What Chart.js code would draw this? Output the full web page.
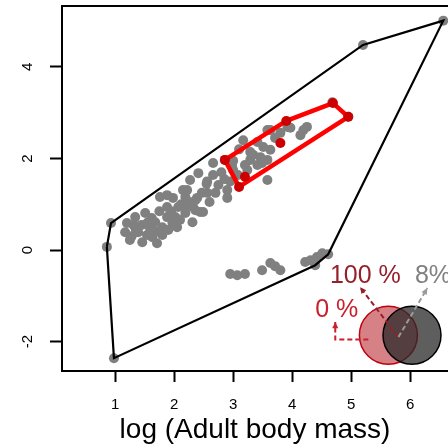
<!DOCTYPE html>
<html>
<head>
<meta charset="utf-8">
<script src="https://cdn.jsdelivr.net/npm/chart.js@4"></script>
<style>
  html, body { margin: 0; padding: 0; background: #fff; overflow: hidden; }
  canvas { display: block; }
</style>
</head>
<body>
<canvas id="myChart" width="448" height="444"></canvas>
<script>
// all species (grey)
var allX = [0.86, 0.93, 0.98, 5.20, 6.56, 4.61, 4.39,
    2.95, 3.07, 3.20, 3.49, 3.63, 3.71, 3.80, 4.22, 4.31, 4.42, 4.51,
    1.20, 1.34, 1.51, 1.25, 1.46, 1.63, 1.39, 1.59, 1.80, 1.80, 1.97, 2.02, 1.88, 2.07, 2.19, 2.36,
    2.31, 2.19, 2.36, 2.47, 1.88, 1.76, 2.22, 2.44, 2.05, 1.88, 2.66, 2.41, 2.27, 2.15, 2.66, 2.98,
    3.08, 2.75, 2.90, 2.56, 2.39, 2.90, 3.24, 3.34, 3.58, 3.49, 1.98, 2.32, 2.49, 3.17, 3.41, 3.63,
    3.71, 3.97, 4.19, 4.25, 4.68, 3.51, 3.29, 3.63, 3.46, 3.29, 3.20, 3.41, 3.58, 3.80, 3.92, 4.14,
    3.58, 1.17, 1.31, 1.68, 1.71, 1.54, 1.90, 2.10, 2.56, 2.80, 2.95, 3.00, 3.10, 4.95, 2.86,
    1.45, 1.62, 1.75, 1.95, 2.12, 2.25, 1.55, 1.70, 2.20, 2.55, 2.70, 2.85, 3.00, 1.35, 1.28, 2.60];
var allY = [0.07, 0.59, -2.36, 4.48, 5.01, -0.09, -0.33,
    -0.52, -0.55, -0.52, -0.44, -0.28, -0.35, -0.44, -0.26, -0.22, -0.15, -0.07,
    0.59, 0.72, 0.81, 0.22, 0.17, 0.28, 0.39, 0.48, 0.50, 0.33, 0.59, 0.72, 0.94, 0.94, 1.16, 1.09,
    0.61, 0.81, 0.87, 1.25, 1.20, 1.16, 1.31, 0.83, 0.50, 0.72, 1.90, 1.68, 1.53, 1.31, 1.64, 1.86,
    1.64, 1.42, 1.31, 1.25, 1.14, 1.14, 1.75, 2.08, 1.53, 1.90, 1.14, 0.94, 0.83, 2.40, 2.36, 2.62,
    2.45, 2.67, 2.62, 2.69, 3.23, 2.25, 2.14, 2.19, 2.03, 1.97, 1.86, 1.86, 1.97, 2.56, 2.69, 2.51,
    2.62, 0.39, 0.55, 0.61, 0.15, 0.33, 0.44, 0.66, 1.50, 1.70, 1.50, 1.95, 2.20, 2.91, 1.97,
    0.55, 0.70, 0.85, 0.85, 1.00, 1.05, 0.60, 0.40, 0.95, 1.45, 1.25, 1.55, 1.75, 0.45, 0.30, 1.05];

// subset (red)
var subX = [2.86, 3.10, 4.95, 4.69, 3.90, 3.80, 3.20];
var subY = [1.97, 1.38, 2.91, 3.21, 2.82, 2.34, 1.60];

// convex hulls
var hullX = [0.86, 0.93, 5.20, 6.56, 4.61, 4.39, 0.98, 0.86];
var hullY = [0.07, 0.59, 4.48, 5.01, -0.09, -0.33, -2.36, 0.07];
var subHullX = [2.86, 3.90, 4.69, 4.95, 3.10, 2.86];
var subHullY = [1.97, 2.82, 3.21, 2.91, 1.38, 1.97];

// overlap circles (subset / all)
var vennX = [5.63, 6.03];
var vennY = [-1.86, -1.86];
var vennLabels = ["0 %", "100 %", "8%"];

var xTicks = [1, 2, 3, 4, 5, 6];
var xTickLabels = ["1", "2", "3", "4", "5", "6"];
var yTicks = [-2, 0, 2, 4];
var yTickLabels = ["-2", "0", "2", "4"];

var FONT = "'Liberation Sans', Arial, sans-serif";

function toPoints(xs, ys) {
    return xs.map(function (x, i) {
        return { x: x, y: ys[i] };
    });
}

// tick labels, top frame line, arrows and labels of the overlap inset
var insetPlugin = {
    id: "inset",
    afterDatasetsDraw: function (chart) {
        var c = chart.ctx;
        var sx = chart.scales.x, sy = chart.scales.y;
        var px = function (v) { return sx.getPixelForValue(v); };
        var py = function (v) { return sy.getPixelForValue(v); };

        function arrow(pts, color) {
            c.save();
            c.strokeStyle = color;
            c.fillStyle = color;
            c.lineWidth = 2;
            c.setLineDash([5, 3]);
            c.beginPath();
            c.moveTo(px(pts[0][0]), py(pts[0][1]));
            for (var i = 1; i < pts.length; i++) c.lineTo(px(pts[i][0]), py(pts[i][1]));
            c.stroke();
            var a = pts[pts.length - 2], b = pts[pts.length - 1];
            var ang = Math.atan2(py(b[1]) - py(a[1]), px(b[0]) - px(a[0]));
            var ex = px(b[0]), ey = py(b[1]);
            c.setLineDash([]);
            c.beginPath();
            c.moveTo(ex, ey);
            c.lineTo(ex - 7 * Math.cos(ang - 0.45), ey - 7 * Math.sin(ang - 0.45));
            c.lineTo(ex - 7 * Math.cos(ang + 0.45), ey - 7 * Math.sin(ang + 0.45));
            c.closePath();
            c.fill();
            c.restore();
        }

        arrow([[5.29, -1.95], [4.73, -1.95], [4.73, -1.57]], "#c8202c");
        arrow([[5.80, -1.90], [5.15, -0.81]], "#96202a");
        arrow([[5.80, -1.90], [6.29, -0.83]], "#9a9a9a");

        c.save();
        c.font = "25px " + FONT;
        c.textBaseline = "alphabetic";
        c.textAlign = "left";
        c.fillStyle = "#c8202c";
        c.fillText(vennLabels[0], px(4.39), py(-1.46));
        c.fillStyle = "#96202a";
        c.fillText(vennLabels[1], px(4.64), py(-0.72));
        c.fillStyle = "#808080";
        c.fillText(vennLabels[2], px(6.08), py(-0.72));
        c.restore();
    },
    afterDraw: function (chart) {
        var a = chart.chartArea, c = chart.ctx;
        var sx = chart.scales.x, sy = chart.scales.y;
        c.save();
        c.strokeStyle = "#000";
        c.lineWidth = 2;
        c.beginPath();
        c.moveTo(a.left - 1, a.top);
        c.lineTo(a.right, a.top);
        c.stroke();

        c.fillStyle = "#000";
        c.font = "15px " + FONT;
        c.textAlign = "center";
        c.textBaseline = "middle";
        xTicks.forEach(function (v, i) {
            c.fillText(xTickLabels[i], sx.getPixelForValue(v), a.bottom + 34);
        });
        yTicks.forEach(function (v, i) {
            c.save();
            c.translate(a.left - 34, sy.getPixelForValue(v));
            c.rotate(-Math.PI / 2);
            c.fillText(yTickLabels[i], 0, 0);
            c.restore();
        });
        c.restore();
    }
};

var ctx = document.getElementById("myChart").getContext("2d");
var myChart = new Chart(ctx, {
    type: "scatter",
    data: {
        datasets: [
            {
                label: "all (circle)",
                data: toPoints(vennX.slice(1), vennY.slice(1)),
                pointRadius: 29,
                backgroundColor: "rgba(40,40,40,0.75)",
                borderColor: "#000000",
                borderWidth: 1.5,
                order: 1,
            },
            {
                label: "subset (circle)",
                data: toPoints(vennX.slice(0, 1), vennY.slice(0, 1)),
                pointRadius: 29,
                backgroundColor: "rgba(180,25,35,0.55)",
                borderColor: "#c00010",
                borderWidth: 1.5,
                order: 2,
            },
            {
                label: "subset",
                data: toPoints(subX, subY),
                pointRadius: 5,
                backgroundColor: "#cc0000",
                borderWidth: 0,
                order: 3,
            },
            {
                label: "subset hull",
                type: "line",
                data: toPoints(subHullX, subHullY),
                borderColor: "#ff0000",
                borderWidth: 4.5,
                borderJoinStyle: "round",
                pointRadius: 0,
                fill: false,
                tension: 0,
                order: 4,
            },
            {
                label: "hull",
                type: "line",
                data: toPoints(hullX, hullY),
                borderColor: "#000000",
                borderWidth: 2.2,
                pointRadius: 0,
                fill: false,
                tension: 0,
                order: 5,
            },
            {
                label: "all",
                data: toPoints(allX, allY),
                pointRadius: 5,
                backgroundColor: "#808080",
                borderWidth: 0,
                order: 6,
            },
        ],
    },
    options: {
        responsive: false,
        animation: false,
        layout: { autoPadding: false, padding: { top: 6, right: 0, left: 0, bottom: 0 } },
        plugins: {
            legend: { display: false },
            tooltip: { enabled: false },
        },
        scales: {
            x: {
                type: "linear",
                min: 0.1,
                max: 6.64,
                afterBuildTicks: function (scale) {
                    scale.ticks = xTicks.map(function (v) { return { value: v }; });
                },
                afterFit: function (scale) {
                    scale.height = 73;
                },
                border: { display: true, color: "#000", width: 2 },
                grid: { drawOnChartArea: false, tickLength: 11, tickWidth: 2, tickColor: "#000" },
                ticks: { display: false },
                title: {
                    display: true,
                    text: "log (Adult body mass)",
                    color: "#000",
                    padding: { top: 0, bottom: 0 },
                    font: { family: FONT, size: 28, lineHeight: 1 },
                },
            },
            y: {
                type: "linear",
                min: -2.64,
                max: 5.33,
                afterBuildTicks: function (scale) {
                    scale.ticks = yTicks.map(function (v) { return { value: v }; });
                },
                afterFit: function (scale) {
                    scale.width = 62;
                },
                border: { display: true, color: "#000", width: 2 },
                grid: { drawOnChartArea: false, tickLength: 12, tickWidth: 2, tickColor: "#000" },
                ticks: { display: false },
            },
        },
    },
    plugins: [insetPlugin],
});
</script>
</body>
</html>
